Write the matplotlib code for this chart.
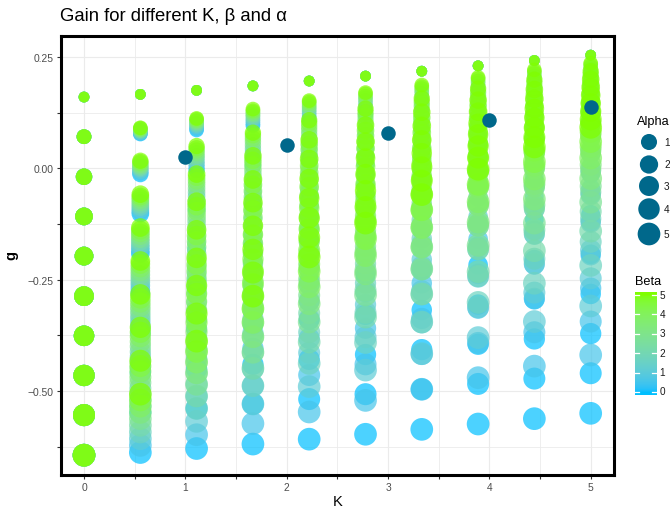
import numpy as np
import matplotlib
matplotlib.use("Agg")
import matplotlib.pyplot as plt
from matplotlib.colors import ListedColormap, Normalize

plt.rcParams['font.family'] = ['Liberation Sans', 'DejaVu Sans']

# ---------------- data ----------------
K_vals = [0.0, 0.556, 1.111, 1.667, 2.222, 2.778, 3.333, 3.889, 4.444, 5.0]
beta_vals = [0.0, 0.556, 1.111, 1.667, 2.222, 2.778, 3.333, 3.889, 4.444, 5.0]
alpha_vals = [0.0, 0.556, 1.111, 1.667, 2.222, 2.778, 3.333, 3.889, 4.444, 5.0]

# g per K column: one row per beta value, one entry per alpha value
g_col0 = [
    [0.160, 0.071, -0.019, -0.108, -0.197, -0.287, -0.376, -0.465, -0.554, -0.644],
    [0.160, 0.071, -0.019, -0.108, -0.197, -0.287, -0.376, -0.465, -0.554, -0.644],
    [0.160, 0.071, -0.019, -0.108, -0.197, -0.287, -0.376, -0.465, -0.554, -0.644],
    [0.160, 0.071, -0.019, -0.108, -0.197, -0.287, -0.376, -0.465, -0.554, -0.644],
    [0.160, 0.071, -0.019, -0.108, -0.197, -0.287, -0.376, -0.465, -0.554, -0.644],
    [0.160, 0.071, -0.019, -0.108, -0.197, -0.287, -0.376, -0.465, -0.554, -0.644],
    [0.160, 0.071, -0.019, -0.108, -0.197, -0.287, -0.376, -0.465, -0.554, -0.644],
    [0.160, 0.071, -0.019, -0.108, -0.197, -0.287, -0.376, -0.465, -0.554, -0.644],
    [0.160, 0.071, -0.019, -0.108, -0.197, -0.287, -0.376, -0.465, -0.554, -0.644],
    [0.160, 0.071, -0.019, -0.108, -0.197, -0.287, -0.376, -0.465, -0.554, -0.644],
]
g_col1 = [
    [0.166, 0.077, -0.013, -0.102, -0.191, -0.281, -0.370, -0.459, -0.548, -0.638],
    [0.166, 0.078, -0.009, -0.097, -0.184, -0.272, -0.359, -0.447, -0.534, -0.622],
    [0.166, 0.080, -0.006, -0.092, -0.177, -0.263, -0.349, -0.435, -0.521, -0.607],
    [0.166, 0.082, -0.002, -0.087, -0.171, -0.255, -0.339, -0.423, -0.507, -0.592],
    [0.166, 0.084, 0.001, -0.082, -0.164, -0.247, -0.329, -0.412, -0.494, -0.577],
    [0.166, 0.085, 0.004, -0.077, -0.158, -0.239, -0.319, -0.400, -0.481, -0.562],
    [0.166, 0.087, 0.007, -0.072, -0.151, -0.231, -0.310, -0.389, -0.469, -0.548],
    [0.166, 0.088, 0.011, -0.067, -0.145, -0.223, -0.301, -0.378, -0.456, -0.534],
    [0.166, 0.090, 0.014, -0.063, -0.139, -0.215, -0.292, -0.368, -0.444, -0.520],
    [0.166, 0.091, 0.017, -0.058, -0.133, -0.208, -0.283, -0.357, -0.432, -0.507],
]
g_col2 = [
    [0.175, 0.086, -0.004, -0.093, -0.182, -0.272, -0.361, -0.450, -0.539, -0.629],
    [0.175, 0.089, 0.003, -0.083, -0.168, -0.254, -0.340, -0.426, -0.512, -0.598],
    [0.175, 0.093, 0.010, -0.073, -0.155, -0.238, -0.320, -0.403, -0.485, -0.568],
    [0.175, 0.096, 0.016, -0.063, -0.142, -0.222, -0.301, -0.380, -0.460, -0.539],
    [0.175, 0.099, 0.023, -0.054, -0.130, -0.206, -0.283, -0.359, -0.435, -0.511],
    [0.175, 0.102, 0.028, -0.045, -0.118, -0.192, -0.265, -0.338, -0.411, -0.485],
    [0.175, 0.105, 0.034, -0.036, -0.107, -0.177, -0.248, -0.318, -0.389, -0.459],
    [0.175, 0.107, 0.040, -0.028, -0.096, -0.164, -0.231, -0.299, -0.367, -0.435],
    [0.175, 0.110, 0.045, -0.020, -0.085, -0.151, -0.216, -0.281, -0.346, -0.411],
    [0.175, 0.112, 0.050, -0.013, -0.075, -0.138, -0.201, -0.263, -0.326, -0.388],
]
g_col3 = [
    [0.185, 0.096, 0.006, -0.083, -0.172, -0.262, -0.351, -0.440, -0.529, -0.619],
    [0.185, 0.101, 0.017, -0.068, -0.152, -0.236, -0.320, -0.404, -0.488, -0.573],
    [0.185, 0.106, 0.026, -0.053, -0.132, -0.212, -0.291, -0.370, -0.450, -0.529],
    [0.185, 0.110, 0.036, -0.039, -0.114, -0.189, -0.264, -0.338, -0.413, -0.488],
    [0.185, 0.115, 0.044, -0.026, -0.097, -0.167, -0.238, -0.308, -0.379, -0.449],
    [0.185, 0.119, 0.052, -0.014, -0.081, -0.147, -0.213, -0.280, -0.346, -0.413],
    [0.185, 0.122, 0.060, -0.003, -0.065, -0.128, -0.191, -0.253, -0.316, -0.378],
    [0.185, 0.126, 0.067, 0.008, -0.051, -0.110, -0.169, -0.228, -0.287, -0.346],
    [0.185, 0.129, 0.074, 0.018, -0.037, -0.093, -0.149, -0.204, -0.260, -0.315],
    [0.185, 0.133, 0.080, 0.028, -0.025, -0.077, -0.129, -0.182, -0.234, -0.287],
]
g_col4 = [
    [0.196, 0.107, 0.017, -0.072, -0.161, -0.251, -0.340, -0.429, -0.518, -0.608],
    [0.196, 0.114, 0.031, -0.052, -0.134, -0.217, -0.299, -0.382, -0.464, -0.547],
    [0.196, 0.120, 0.044, -0.033, -0.109, -0.185, -0.262, -0.338, -0.414, -0.490],
    [0.196, 0.126, 0.055, -0.015, -0.086, -0.156, -0.227, -0.297, -0.368, -0.438],
    [0.196, 0.131, 0.066, 0.001, -0.064, -0.130, -0.195, -0.260, -0.325, -0.390],
    [0.196, 0.136, 0.076, 0.016, -0.045, -0.105, -0.165, -0.225, -0.285, -0.345],
    [0.196, 0.140, 0.085, 0.029, -0.026, -0.082, -0.138, -0.193, -0.249, -0.304],
    [0.196, 0.145, 0.093, 0.042, -0.010, -0.061, -0.112, -0.164, -0.215, -0.266],
    [0.196, 0.149, 0.101, 0.054, 0.006, -0.041, -0.089, -0.136, -0.184, -0.231],
    [0.196, 0.152, 0.108, 0.064, 0.021, -0.023, -0.067, -0.111, -0.155, -0.199],
]
g_col5 = [
    [0.207, 0.118, 0.028, -0.061, -0.150, -0.240, -0.329, -0.418, -0.507, -0.597],
    [0.207, 0.126, 0.045, -0.036, -0.117, -0.198, -0.278, -0.359, -0.440, -0.521],
    [0.207, 0.134, 0.060, -0.013, -0.086, -0.160, -0.233, -0.306, -0.379, -0.453],
    [0.207, 0.141, 0.074, 0.008, -0.059, -0.125, -0.191, -0.258, -0.324, -0.391],
    [0.207, 0.147, 0.087, 0.027, -0.034, -0.094, -0.154, -0.214, -0.274, -0.334],
    [0.207, 0.153, 0.098, 0.044, -0.011, -0.066, -0.120, -0.175, -0.229, -0.284],
    [0.207, 0.158, 0.108, 0.059, 0.010, -0.040, -0.089, -0.139, -0.188, -0.237],
    [0.207, 0.162, 0.118, 0.073, 0.028, -0.017, -0.061, -0.106, -0.151, -0.196],
    [0.207, 0.167, 0.126, 0.085, 0.045, 0.004, -0.036, -0.077, -0.117, -0.158],
    [0.207, 0.170, 0.134, 0.097, 0.060, 0.023, -0.013, -0.050, -0.087, -0.123],
]
g_col6 = [
    [0.218, 0.129, 0.039, -0.050, -0.139, -0.229, -0.318, -0.407, -0.496, -0.586],
    [0.218, 0.139, 0.059, -0.020, -0.099, -0.179, -0.258, -0.337, -0.417, -0.496],
    [0.218, 0.148, 0.077, 0.007, -0.064, -0.134, -0.205, -0.275, -0.346, -0.416],
    [0.218, 0.155, 0.093, 0.030, -0.032, -0.095, -0.158, -0.220, -0.283, -0.345],
    [0.218, 0.162, 0.107, 0.051, -0.004, -0.060, -0.116, -0.171, -0.227, -0.282],
    [0.218, 0.169, 0.119, 0.070, 0.021, -0.029, -0.078, -0.128, -0.177, -0.226],
    [0.218, 0.174, 0.130, 0.086, 0.043, -0.001, -0.045, -0.089, -0.133, -0.177],
    [0.218, 0.179, 0.140, 0.101, 0.062, 0.023, -0.016, -0.055, -0.094, -0.133],
    [0.218, 0.183, 0.149, 0.114, 0.080, 0.045, 0.010, -0.024, -0.059, -0.093],
    [0.218, 0.187, 0.157, 0.126, 0.095, 0.064, 0.034, 0.003, -0.028, -0.059],
]
g_col7 = [
    [0.230, 0.141, 0.051, -0.038, -0.127, -0.217, -0.306, -0.395, -0.484, -0.574],
    [0.230, 0.152, 0.075, -0.003, -0.081, -0.159, -0.237, -0.314, -0.392, -0.470],
    [0.230, 0.162, 0.095, 0.027, -0.041, -0.109, -0.176, -0.244, -0.312, -0.380],
    [0.230, 0.171, 0.112, 0.053, -0.006, -0.065, -0.124, -0.183, -0.242, -0.301],
    [0.230, 0.179, 0.127, 0.076, 0.025, -0.027, -0.078, -0.130, -0.181, -0.232],
    [0.230, 0.185, 0.141, 0.096, 0.051, 0.006, -0.038, -0.083, -0.128, -0.173],
    [0.230, 0.191, 0.152, 0.113, 0.074, 0.035, -0.004, -0.043, -0.082, -0.121],
    [0.230, 0.196, 0.162, 0.128, 0.094, 0.060, 0.027, -0.008, -0.041, -0.075],
    [0.230, 0.201, 0.171, 0.141, 0.112, 0.082, 0.053, 0.023, -0.006, -0.036],
    [0.230, 0.204, 0.179, 0.153, 0.127, 0.101, 0.076, 0.050, 0.024, -0.002],
]
g_col8 = [
    [0.242, 0.153, 0.063, -0.026, -0.115, -0.205, -0.294, -0.383, -0.472, -0.562],
    [0.242, 0.166, 0.090, 0.013, -0.063, -0.139, -0.216, -0.292, -0.368, -0.444],
    [0.242, 0.177, 0.112, 0.047, -0.018, -0.084, -0.149, -0.214, -0.279, -0.344],
    [0.242, 0.186, 0.131, 0.075, 0.020, -0.036, -0.092, -0.147, -0.203, -0.258],
    [0.242, 0.195, 0.147, 0.100, 0.052, 0.005, -0.043, -0.090, -0.138, -0.185],
    [0.242, 0.202, 0.161, 0.120, 0.080, 0.039, -0.001, -0.042, -0.082, -0.123],
    [0.242, 0.207, 0.173, 0.138, 0.104, 0.069, 0.034, 0.000, -0.035, -0.069],
    [0.242, 0.213, 0.183, 0.153, 0.124, 0.094, 0.065, 0.035, 0.006, -0.024],
    [0.242, 0.217, 0.192, 0.166, 0.141, 0.116, 0.091, 0.065, 0.040, 0.015],
    [0.242, 0.221, 0.199, 0.177, 0.156, 0.134, 0.113, 0.091, 0.070, 0.048],
]
g_col9 = [
    [0.254, 0.165, 0.075, -0.014, -0.103, -0.193, -0.282, -0.371, -0.460, -0.550],
    [0.254, 0.179, 0.105, 0.030, -0.045, -0.120, -0.195, -0.269, -0.344, -0.419],
    [0.254, 0.191, 0.129, 0.066, 0.004, -0.059, -0.122, -0.184, -0.247, -0.309],
    [0.254, 0.202, 0.149, 0.097, 0.044, -0.008, -0.060, -0.113, -0.165, -0.218],
    [0.254, 0.210, 0.166, 0.122, 0.079, 0.035, -0.009, -0.053, -0.097, -0.141],
    [0.254, 0.217, 0.181, 0.144, 0.107, 0.070, 0.034, -0.003, -0.040, -0.076],
    [0.254, 0.223, 0.193, 0.162, 0.131, 0.100, 0.070, 0.039, 0.008, -0.023],
    [0.254, 0.228, 0.203, 0.177, 0.151, 0.125, 0.100, 0.074, 0.048, 0.023],
    [0.254, 0.233, 0.211, 0.189, 0.168, 0.146, 0.125, 0.103, 0.082, 0.060],
    [0.254, 0.236, 0.218, 0.200, 0.182, 0.164, 0.146, 0.128, 0.110, 0.092],
]
g_cols = [g_col0, g_col1, g_col2, g_col3, g_col4, g_col5, g_col6, g_col7, g_col8, g_col9]

# reference points (dark)
ref_K = [1, 2, 3, 4, 5]
ref_g = [0.026, 0.053, 0.080, 0.108, 0.137]

alpha_breaks = [1, 2, 3, 4, 5]
beta_breaks = [0, 1, 2, 3, 4, 5]
x_ticks = [0, 1, 2, 3, 4, 5]
y_ticks = [-0.50, -0.25, 0.00, 0.25]
y_ticklabels = ["\u22120.50", "\u22120.25", "0.00", "0.25"]

# ---------------- colour scale (Lab interpolation like ggplot) ----------------
M = np.array([[0.4124564, 0.3575761, 0.1804375],
              [0.2126729, 0.7151522, 0.0721750],
              [0.0193339, 0.1191920, 0.9503041]])
WP = np.array([0.95047, 1.0, 1.08883])

def srgb_to_lab(rgb):
    c = np.asarray(rgb, float) / 255.0
    lin = np.where(c <= 0.04045, c / 12.92, ((c + 0.055) / 1.055) ** 2.4)
    t = (M @ lin) / WP
    d = 6 / 29
    f = np.where(t > d ** 3, np.cbrt(t), t / (3 * d * d) + 4 / 29)
    return np.array([116 * f[1] - 16, 500 * (f[0] - f[1]), 200 * (f[1] - f[2])])

def lab_to_srgb(lab):
    L, a, b = lab
    fy = (L + 16) / 116
    f = np.array([fy + a / 500, fy, fy - b / 200])
    d = 6 / 29
    t = np.where(f > d, f ** 3, 3 * d * d * (f - 4 / 29))
    lin = np.linalg.solve(M, t * WP)
    lin = np.clip(lin, 0, 1)
    c = np.where(lin <= 0.0031308, 12.92 * lin, 1.055 * lin ** (1 / 2.4) - 0.055)
    return np.clip(c, 0, 1)

lab_lo = srgb_to_lab((0, 191, 255))     # deepskyblue
lab_hi = srgb_to_lab((127, 255, 0))     # chartreuse
cols = [lab_to_srgb(lab_lo + (lab_hi - lab_lo) * t) for t in np.linspace(0, 1, 256)]
cmap = ListedColormap(cols)
norm = Normalize(0, 5)

def diam_px(a):
    return 10.7 + 12.0 * np.sqrt(np.asarray(a, float) / 5.0)

def s_of(d_px):
    return (np.asarray(d_px) * 0.72) ** 2

# ---------------- figure ----------------
W, H = 670, 510
fig = plt.figure(figsize=(6.7, 5.1), dpi=100)
ax = fig.add_axes([61 / W, 1 - 475.8 / H, (613.7 - 61) / W, (475.8 - 36.7) / H])
ax.set_xlim(-0.227, 5.227)
ax.set_ylim(-0.688, 0.2977)

xs, ys, bs, als = [], [], [], []
for k, col in enumerate(g_cols):
    for bi, row in enumerate(col):
        for ai, g in enumerate(row):
            xs.append(K_vals[k]); ys.append(g)
            bs.append(beta_vals[bi]); als.append(alpha_vals[ai])

ax.scatter(xs, ys, c=bs, cmap=cmap, norm=norm, s=s_of(diam_px(als)),
           alpha=0.7, linewidths=0, zorder=3)
ax.scatter(ref_K, ref_g, color='#00688B', s=s_of(14.5), linewidths=0, zorder=4)

# grid / axes styling
ax.set_axisbelow(True)
ax.set_xticks(x_ticks)
ax.set_xticks([0.5, 1.5, 2.5, 3.5, 4.5], minor=True)
ax.set_yticks(y_ticks)
ax.set_yticklabels(y_ticklabels)
ax.set_yticks([-0.625, -0.375, -0.125, 0.125], minor=True)
ax.grid(which='major', color='#EBEBEB', linewidth=0.85)
ax.grid(which='minor', color='#EBEBEB', linewidth=0.6)
for sp in ax.spines.values():
    sp.set_linewidth(2.2)
    sp.set_color('black')
ax.tick_params(which='both', direction='out', length=2.6, width=0.8, color='#333333',
               labelsize=7.4, labelcolor='#4D4D4D', pad=2.5)
ax.tick_params(which='minor', labelbottom=False, labelleft=False)

# overlay for text/legends in pixel coordinates
ov = fig.add_axes([0, 0, 1, 1], zorder=10)
ov.set_xlim(0, W)
ov.set_ylim(H, 0)
ov.axis('off')

ov.text(60, 20.7, "Gain for different K, \u03b2 and \u03b1", fontsize=13.3,
        ha='left', va='baseline', color='black')
ov.text(337.5, 502, "K", fontsize=10.5, ha='center', va='center', color='black')
ov.text(11, 255, "g", fontsize=10.5, fontweight='bold', rotation=90,
        ha='center', va='center', color='black')

# Alpha size legend
ov.text(636.5, 122, "Alpha", fontsize=9.2, ha='left', va='center', color='black')
leg_y = [143, 165.5, 187, 210, 235]
ov.scatter([649] * 5, leg_y, s=s_of(diam_px(alpha_breaks)), color='#00688B',
           linewidths=0, clip_on=False)
for yv, a in zip(leg_y, alpha_breaks):
    ov.text(664, yv, str(a), fontsize=7.2, ha='left', va='center', color='#1A1A1A')

# Beta colour bar
ov.text(635.5, 282, "Beta", fontsize=9.2, ha='left', va='center', color='black')
cax = fig.add_axes([635 / W, 1 - 395.7 / H, 21.5 / W, (395.7 - 293.3) / H], zorder=11)
grad = np.linspace(-0.13, 5.13, 300).reshape(-1, 1)
cax.imshow(np.clip(grad, 0, 5), cmap=cmap, norm=norm, aspect='auto',
           origin='lower', extent=[0, 1, -0.13, 5.13])
cax.set_xlim(0, 1)
cax.set_ylim(-0.13, 5.13)
cax.axis('off')
for v in beta_breaks:
    cax.plot([0, 0.2], [v, v], color='white', lw=0.9)
    cax.plot([0.8, 1], [v, v], color='white', lw=0.9)
    ov.text(659.5, 392.3 - v * 19.32, str(v), fontsize=7.2, ha='left', va='center',
            color='#1A1A1A')

fig.savefig("out.png", dpi=100)
